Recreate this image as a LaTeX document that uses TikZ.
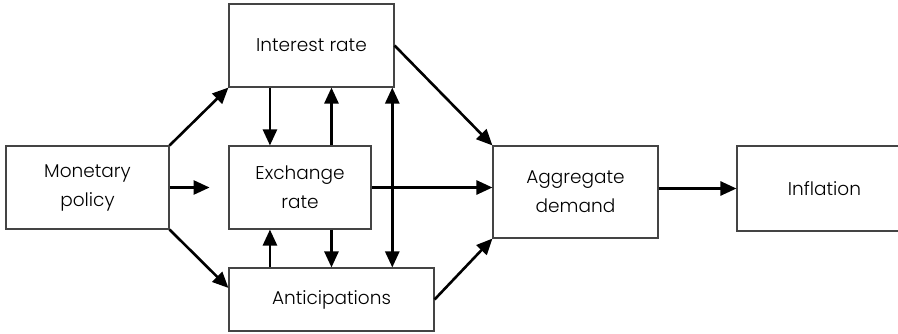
\documentclass[tikz,border=0pt]{standalone}
\usepackage{fontspec}
\setmainfont{Poppins}[UprightFont=* Light]
\usetikzlibrary{arrows.meta,positioning,calc}
\definecolor{paper}{HTML}{FFFFFF}
\definecolor{ink}{HTML}{000000}
\definecolor{frame}{HTML}{444444}
\newcommand{\MidY}{187.5}
\newcommand{\BoxH}{83pt}

\begin{document}
\begin{tikzpicture}[
    x=1pt, y=-1pt,
    font=\fontsize{18.5}{29}\selectfont, ink,
    edge/.style={-{Triangle[length=16pt, width=14pt]}, line width=2.6pt, draw=ink},
    twoway/.style={{Triangle[length=16pt, width=14pt]}-{Triangle[length=16pt, width=14pt]}, line width=2.6pt, draw=ink},
    block/.style={draw=frame, line width=1.1pt, fill=paper, minimum height=\BoxH, align=center, inner sep=0pt},
  ]
\useasboundingbox (0,0) rectangle (898,333);

% --- Boxes -------------------------------------------------------------------
\node[block, minimum width=165pt] (interest) at (311.5, 45.5) {Interest rate};
\node[block, minimum width=163pt] (policy) at (87.5, \MidY) {Monetary\\policy};
\node[block, minimum width=142pt] (exchange) at (300, \MidY) {Exchange\\rate};
\node[block, minimum width=205pt, minimum height=63pt] (antic) at (331.5, 299.5) {Anticipations};
\node[block, minimum width=165pt, minimum height=92pt] (demand) at (575.5, 192) {Aggregate\\demand};
\node[block, minimum width=175pt, minimum height=85pt] (inflation) at (824.5, 188.5) {Inflation};

% --- Where the vertical arrows meet the boxes ----------------------------------
\coordinate (left) at ($(exchange.north west)!0.29!(exchange.north east)$);
\coordinate (right) at ($(exchange.north west)!0.72!(exchange.north east)$);
\coordinate (side) at ($(antic.north west)!0.795!(antic.north east)$);
\coordinate (short) at ($(policy.east)!0.68!(exchange.west)$);
\coordinate (low) at ($(antic.north west)!0.32!(antic.south west)$);

% --- From the policy -------------------------------------------------------------
\draw[edge] (policy.north east) -- (interest.south west);
\draw[edge] (policy.east) -- (short);
\draw[edge] (policy.south east) -- (low);

% --- Between the three channels ----------------------------------------------------
\draw[edge] (interest.south -| left) -- (left);
\draw[edge] (exchange.north -| right) -- (interest.south -| right);
\draw[edge] (exchange.south -| right) -- (antic.north -| right);
\draw[edge] (antic.north -| left) -- (exchange.south -| left);
\draw[twoway] (interest.south -| side) -- (side);

% --- Into demand, then inflation ----------------------------------------------------
\draw[edge] (interest.east) -- (demand.north west);
\draw[edge] (exchange.east) -- (exchange.east -| demand.west);
\draw[edge] (antic.east) -- (demand.south west);
\draw[edge] (inflation.west -| demand.east) -- (inflation.west);

\end{tikzpicture}
\end{document}
